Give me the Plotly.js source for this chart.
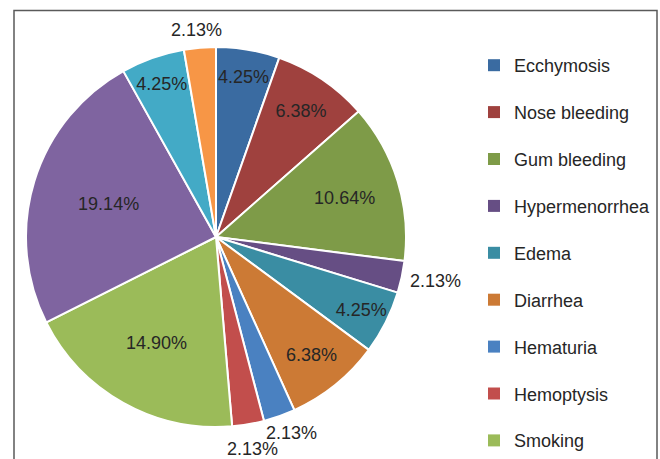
<!DOCTYPE html>
<html>
<head>
<meta charset="utf-8">
<script src="https://cdn.plot.ly/plotly-3.0.1.min.js"></script>
<style>html,body{margin:0;padding:0;background:#fff;}#chart{width:660px;height:459px;}</style>
</head>
<body>
<div id="chart"></div>
<script>
// Slice categories, clockwise from 12 o'clock (last three are not visible in the cropped legend)
const categories = ["Ecchymosis", "Nose bleeding", "Gum bleeding", "Hypermenorrhea", "Edema",
  "Diarrhea", "Hematuria", "Hemoptysis", "Smoking", "Item 10", "Item 11", "Item 12"];
// Percentages as printed on the slices
const percentValues = [4.25, 6.38, 10.64, 2.13, 4.25, 6.38, 2.13, 2.13, 14.90, 19.14, 4.25, 2.13];
const sliceColors = ["#3A6BA1", "#9F413E", "#7E9B48", "#664E84", "#3A8DA3", "#CC7A35",
  "#4A81C1", "#C24E4C", "#9BBB59", "#7F64A0", "#43AAC6", "#F79646"];
const labelPositions = ["inside", "inside", "inside", "outside", "inside", "inside",
  "outside", "outside", "inside", "inside", "inside", "outside"];
// Legend entries visible in the (cropped) reference
const legendCount = 9;

const W = 660, H = 459;
const cx = 216, cy = 237, r = 190;
const FONT = "Liberation Sans, Arial, sans-serif";
const TXT = "#262626";

const labelText = percentValues.map(v => v.toFixed(2) + "%");

const pie = {
  type: "pie",
  labels: categories,
  values: percentValues,
  text: labelText,
  textinfo: "text",
  textposition: labelPositions.map(p => p === "inside" ? "inside" : "none"),
  insidetextorientation: "horizontal",
  sort: false,
  direction: "clockwise",
  rotation: 0,
  marker: {colors: sliceColors, line: {color: "#ffffff", width: 2}},
  textfont: {family: FONT, size: 18, color: TXT},
  insidetextfont: {color: TXT},
  domain: {x: [(cx - r) / W, (cx + r) / W], y: [1 - (cy + r) / H, 1 - (cy - r) / H]},
  showlegend: false,
  hoverinfo: "label+text"
};

// Outside labels placed along each slice's mid-angle (Excel-style), computed from the data
const total = percentValues.reduce((a, b) => a + b, 0);
const annotations = [];
let cum = 0;
const boxes = [];
const hw = 27, hh = 10, gap = 8;
percentValues.forEach((v, i) => {
  const mid = (cum + v / 2) / total * 2 * Math.PI;
  cum += v;
  if (labelPositions[i] !== "outside") return;
  const ux = Math.sin(mid), uy = -Math.cos(mid);
  let px = cx + ux * (r + gap) + ux * hw;
  let py = cy + uy * (r + gap) + uy * hh;
  boxes.forEach(b => {
    if (Math.abs(b.x - px) < 2 * hw && Math.abs(b.y - py) < 2 * hh) {
      py = b.y + (py >= b.y ? 1 : -1) * (2 * hh - 4);
      px = px - 2;
    }
  });
  boxes.push({x: px, y: py});
  annotations.push({
    xref: "paper", yref: "paper", x: px / W, y: 1 - py / H,
    xanchor: "center", yanchor: "middle", showarrow: false,
    text: labelText[i], font: {family: FONT, size: 18, color: TXT}
  });
});

const legendTraces = categories.slice(0, legendCount).map((name, i) => ({
  type: "scatter", mode: "markers", x: [null], y: [null], name: name,
  legendgroup: "g" + i,
  marker: {symbol: "square", size: 12, color: sliceColors[i]},
  showlegend: true, hoverinfo: "skip"
}));

const layout = {
  width: W, height: H,
  margin: {l: 0, r: 0, t: 0, b: 0},
  paper_bgcolor: "#ffffff", plot_bgcolor: "rgba(0,0,0,0)",
  xaxis: {visible: false, domain: [0.72, 0.73]},
  yaxis: {visible: false, domain: [0.5, 0.51]},
  showlegend: true,
  legend: {
    x: 474 / W, xanchor: "left", y: 1 - 49 / H, yanchor: "top",
    traceorder: "grouped", tracegroupgap: 20.5,
    font: {family: FONT, size: 18, color: TXT},
    bgcolor: "rgba(0,0,0,0)", itemclick: false, itemdoubleclick: false
  },
  annotations: annotations,
  shapes: [{
    type: "rect", xref: "paper", yref: "paper",
    x0: 14 / W, x1: 657 / W, y0: -0.2, y1: 1 - 10.5 / H,
    line: {color: "#5a5a5a", width: 1.5}, fillcolor: "rgba(0,0,0,0)", layer: "below"
  }],
  font: {family: FONT}
};

Plotly.newPlot("chart", [pie].concat(legendTraces), layout, {displayModeBar: false, staticPlot: true});
</script>
</body>
</html>
